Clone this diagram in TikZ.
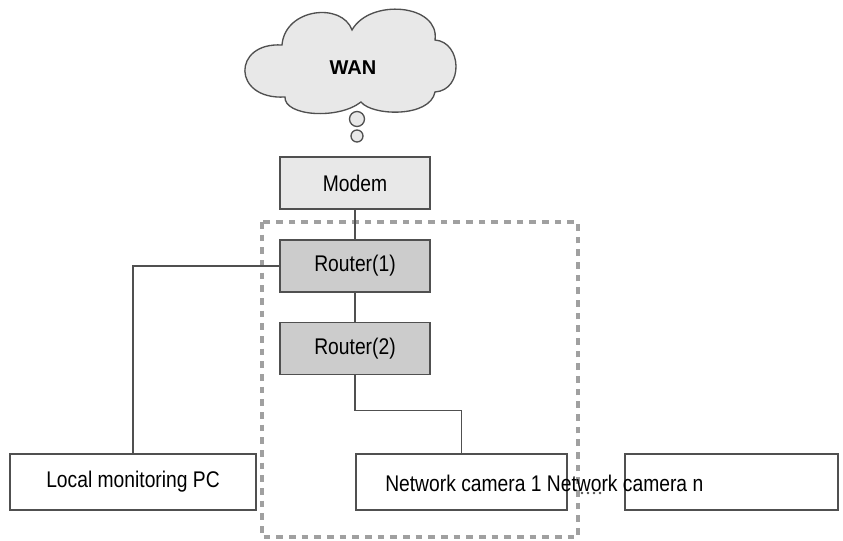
\documentclass[tikz,border=0pt]{standalone}
\usepackage{fontspec}
\setmainfont[FakeStretch=0.85]{Liberation Sans}
\newfontfamily\wanfont{Liberation Sans}
\definecolor{figD}{RGB}{80,80,80}
\definecolor{figL}{RGB}{232,232,232}
\definecolor{figM}{RGB}{204,204,204}
\definecolor{figS}{RGB}{160,160,160}

\begin{document}
\begin{tikzpicture}[x=0.75pt,y=-0.75pt,
  box/.style={draw=figD,line width=1pt,fill=white,inner sep=0pt,font=\fontsize{17}{20}\selectfont},
  link/.style={draw=figD,line width=1pt},
  txt/.style={inner sep=0pt,font=\fontsize{17}{20}\selectfont}]
\useasboundingbox (0,0) rectangle (843,540);
% zone of the two routers
\draw[figS,line width=2.6pt,dash pattern=on 5pt off 4.5pt] (262,222) rectangle (578,537);
% cloud
\filldraw[fill=figL,draw=figD,line width=1pt]
  (282,45) .. controls (285,8) and (342,2) .. (352,30)
  .. controls (370,-2) and (440,4) .. (435,40)
  .. controls (462,42) and (464,90) .. (435,92)
  .. controls (430,118) and (372,116) .. (361,102)
  .. controls (338,120) and (284,116) .. (285,97)
  .. controls (232,100) and (232,42) .. cycle;
\node[inner sep=0pt,font=\wanfont\fontsize{15}{18}\selectfont\bfseries] (wan) at (353,68) {WAN};
\filldraw[fill=figL,draw=figD,line width=1pt] (357,119) circle (7.5) (357,136) circle (6);
\node[box,fill=figL,minimum width=112.5pt,minimum height=39pt] (modem) at (355,183) {Modem};
\node[box,fill=figM,minimum width=112.5pt,minimum height=39pt] (r1) at (355,266) {Router(1)};
\node[box,fill=figM,minimum width=112.5pt,minimum height=39pt] (r2) at (355,348.5) {Router(2)};
\node[box,minimum width=184.5pt,minimum height=42pt] (pc) at (133,482) {Local monitoring PC};
\node[box,minimum width=158.25pt,minimum height=42pt] (cam1) at (461.5,482) {};
\node[box,minimum width=159.75pt,minimum height=42pt] (camn) at (731.5,482) {};
\node[txt,anchor=west] (camtxt) at (385,483) {Network camera 1 Network camera n};
% dots between the cameras
\foreach \dx in {582,588,594,600}
  \fill[figD] (\dx,493) circle (1.3);
\draw[link] (modem) -- (r1);
\draw[link] (r1) -- (r2);
\draw[link] (r1.west) -| (pc.north);
\draw[link] (r2.south) -- ++(0,35) -| (cam1.north);
\end{tikzpicture}
\end{document}
